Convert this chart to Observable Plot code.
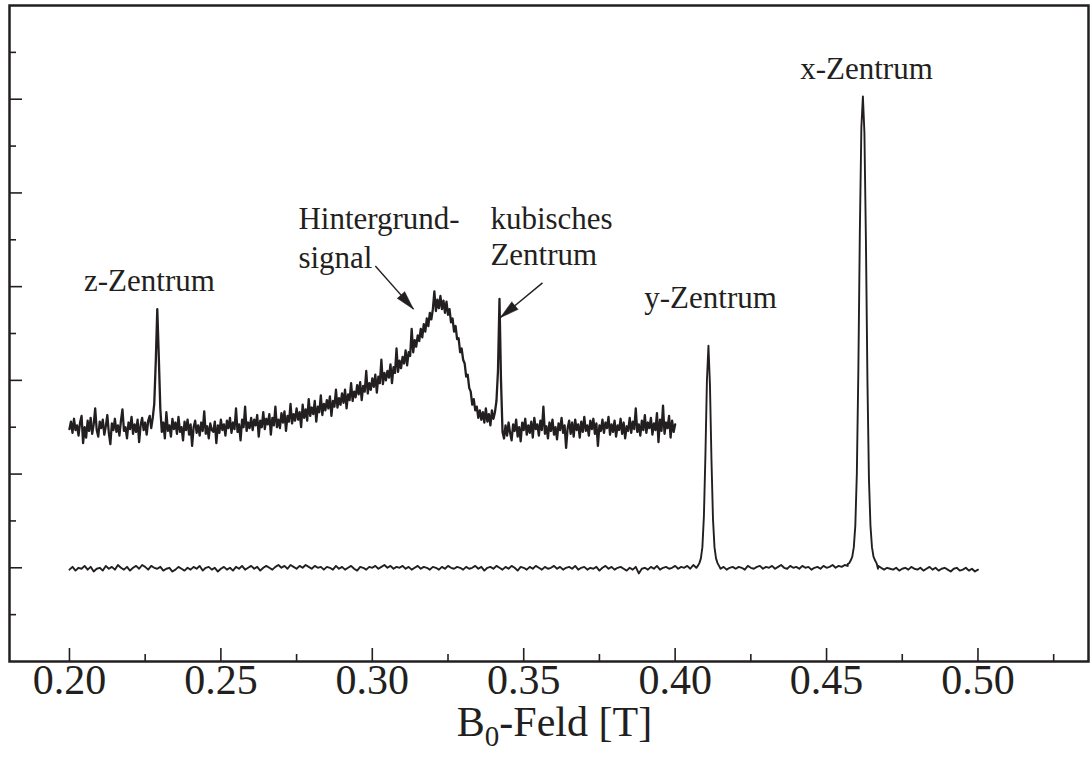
<!DOCTYPE html>
<html><head><meta charset="utf-8">
<script src="https://cdn.jsdelivr.net/npm/d3@7"></script>
<script src="https://cdn.jsdelivr.net/npm/@observablehq/plot@0.6"></script>
<style>
body{margin:0;background:#fff}
svg{display:block}
svg text{font-family:"Liberation Serif","DejaVu Serif",serif !important}
</style>
</head><body><div id="chart"></div>
<script>
// ---- data ----
// upper trace (zoomed spectrum 0.20–0.40 T), sampled every 0.5 mT
const upperStart = 0.200, upperStep = 0.0005;
const upperValues = [
1.48,1.56,1.44,1.59,1.47,1.52,1.41,1.55,1.62,1.33,1.50,1.39,1.57,1.46,1.60,1.43,1.53,1.70,1.47,1.40,
1.56,1.49,1.58,1.42,1.51,1.63,1.44,1.32,1.54,1.47,1.59,1.45,1.52,1.41,1.57,1.69,1.46,1.50,1.38,1.55,
1.48,1.61,1.43,1.53,1.45,1.58,1.34,1.52,1.60,1.47,1.55,1.42,1.57,1.62,1.49,1.60,1.75,2.20,2.76,2.25,
1.70,1.45,1.55,1.38,1.66,1.46,1.52,1.40,1.59,1.48,1.55,1.43,1.61,1.45,1.50,1.36,1.56,1.47,1.58,1.42,
1.53,1.30,1.50,1.57,1.44,1.52,1.41,1.55,1.46,1.67,1.43,1.51,1.38,1.54,1.47,1.45,1.56,1.33,1.52,1.44,
1.58,1.47,1.53,1.41,1.57,1.49,1.60,1.44,1.55,1.48,1.70,1.45,1.53,1.36,1.58,1.50,1.72,1.46,1.55,1.49,
1.60,1.47,1.58,1.52,1.63,1.40,1.57,1.50,1.66,1.48,1.59,1.53,1.64,1.42,1.60,1.52,1.72,1.50,1.58,1.49,
1.65,1.55,1.67,1.46,1.62,1.56,1.75,1.54,1.64,1.57,1.70,1.58,1.66,1.50,1.74,1.60,1.69,1.57,1.80,1.62,
1.71,1.64,1.78,1.56,1.72,1.66,1.84,1.63,1.75,1.68,1.79,1.70,1.83,1.62,1.78,1.72,1.90,1.71,1.81,1.74,
1.86,1.76,1.90,1.70,1.85,1.79,1.97,1.78,1.88,1.82,1.95,1.85,1.98,1.79,1.94,1.88,2.10,1.86,1.97,1.90,
2.02,1.93,2.06,1.87,2.04,1.97,2.22,1.96,2.08,2.00,2.10,2.03,2.17,1.97,2.14,2.08,2.34,2.09,2.21,2.13,
2.25,2.18,2.32,2.16,2.30,2.26,2.55,2.30,2.43,2.36,2.48,2.42,2.55,2.46,2.60,2.52,2.66,2.58,2.72,2.65,
2.76,2.95,2.74,2.86,2.77,2.90,2.76,2.85,2.72,2.84,2.70,2.76,2.62,2.66,2.52,2.58,2.44,2.45,2.30,2.34,
2.22,2.18,2.04,2.06,1.92,1.88,1.74,1.80,1.68,1.72,1.60,1.68,1.58,1.66,1.55,1.70,1.56,1.64,1.52,1.68,
1.59,1.66,1.78,2.10,2.87,2.00,1.45,1.38,1.52,1.41,1.55,1.44,1.36,1.53,1.46,1.58,1.40,1.50,1.35,1.55,
1.47,1.59,1.42,1.52,1.44,1.56,1.39,1.60,1.48,1.53,1.41,1.57,1.47,1.72,1.43,1.51,1.38,1.55,1.46,1.58,
1.42,1.50,1.37,1.54,1.47,1.60,1.44,1.52,1.28,1.49,1.57,1.43,1.55,1.40,1.58,1.47,1.53,1.39,1.56,1.45,
1.61,1.46,1.52,1.41,1.57,1.48,1.59,1.43,1.54,1.30,1.52,1.46,1.58,1.44,1.55,1.49,1.61,1.42,1.53,1.45,
1.57,1.40,1.52,1.47,1.59,1.43,1.55,1.38,1.51,1.46,1.60,1.44,1.56,1.48,1.70,1.45,1.53,1.41,1.57,1.47,
1.63,1.44,1.55,1.49,1.60,1.42,1.54,1.47,1.65,1.34,1.58,1.46,1.73,1.43,1.55,1.49,1.62,1.39,1.57,1.45,
1.53];

// lower trace (full spectrum 0.20–0.50 T), baseline sampled every 1 mT
const lowerStart = 0.200, lowerStep = 0.001;
const lowerValues = [
-0.02,0.01,-0.03,0.00,-0.01,0.02,-0.02,0.01,-0.04,-0.01,
0.00,-0.03,0.02,-0.01,0.01,-0.02,0.03,0.00,-0.02,0.01,
-0.03,0.00,0.02,-0.01,0.03,0.01,-0.02,0.02,0.00,-0.01,
0.01,-0.03,-0.01,0.00,-0.04,-0.02,0.01,-0.01,-0.03,0.00,
-0.02,0.01,-0.01,0.02,-0.03,0.00,0.01,-0.02,0.00,-0.04,
-0.01,0.01,-0.02,0.00,-0.03,0.01,-0.01,0.02,-0.02,0.00,
0.02,-0.01,0.01,-0.03,0.00,0.02,0.00,-0.02,0.01,0.03,
0.00,0.02,-0.01,0.03,0.01,-0.01,0.02,0.00,0.03,0.01,
-0.01,0.02,0.00,0.01,-0.02,0.01,0.00,-0.02,0.02,-0.01,
0.01,-0.02,0.00,0.02,-0.01,-0.03,0.01,0.00,-0.02,0.01,
0.00,0.02,-0.01,0.01,0.03,0.00,0.02,-0.01,0.01,0.00,
0.02,-0.01,0.01,-0.02,0.00,0.02,-0.01,0.01,0.00,-0.02,
0.01,0.00,-0.02,0.01,-0.01,0.02,0.00,-0.01,0.01,0.00,
-0.02,0.01,-0.01,0.00,0.02,-0.01,0.01,-0.03,0.00,0.01,
-0.01,0.02,0.00,-0.02,0.01,-0.01,0.02,0.00,-0.03,0.01,
0.00,-0.02,0.01,-0.01,0.02,0.00,-0.02,0.01,-0.01,0.00,
0.02,-0.01,0.01,-0.02,0.00,0.01,-0.01,0.02,-0.02,0.00,
0.01,-0.02,0.00,-0.01,0.01,-0.03,0.00,0.02,-0.01,0.01,
-0.02,0.00,0.01,-0.01,-0.03,0.00,-0.02,0.01,-0.06,-0.01,
0.00,-0.02,0.01,-0.01,0.02,-0.02,0.00,0.01,-0.01,0.00,
0.02,-0.01,0.01,0.00,0.02,-0.01,0.03,0.00,0.01,0.02,
0.01,0.00,0.00,-0.02,0.00,-0.01,0.01,-0.02,0.00,0.01,
-0.01,0.01,0.00,-0.02,0.02,0.00,-0.01,0.01,0.02,-0.01,
0.01,0.00,0.02,-0.01,0.01,0.03,0.00,-0.01,0.02,0.00,
0.01,-0.01,0.02,0.00,0.01,-0.02,0.00,0.01,-0.01,0.02,
0.00,0.01,0.03,0.00,0.02,0.01,0.03,0.02,0.03,0.04,
0.03,0.03,0.03,0.02,0.01,0.00,0.01,-0.01,0.00,-0.02,
0.00,-0.01,-0.02,0.00,-0.03,-0.01,0.00,-0.02,0.01,-0.01,
-0.02,0.00,-0.03,-0.01,0.01,-0.02,0.00,-0.03,-0.01,0.00,
-0.02,-0.04,-0.01,0.00,-0.03,-0.02,0.00,-0.03,-0.01,-0.04,
-0.02];

// y-Zentrum line, finely sampled
const yPeakField  = [0.4075,0.4080,0.4085,0.4090,0.4095,0.4100,0.4105,0.4110,0.4115,0.4120,0.4125,0.4130,0.4135,0.4140,0.4145];
const yPeakValues = [0.02,0.05,0.10,0.22,0.55,1.20,2.00,2.37,1.95,1.15,0.52,0.22,0.10,0.05,0.02];
// x-Zentrum line, finely sampled
const xPeakField  = [0.4570,0.4575,0.4580,0.4585,0.4590,0.4595,0.4600,0.4605,0.4610,0.4615,0.4620,0.4625,0.4630,0.4635,0.4640,0.4645,0.4650,0.4655,0.4660,0.4665,0.4670];
const xPeakValues = [0.04,0.05,0.08,0.12,0.22,0.45,1.00,2.10,3.60,4.70,5.03,4.65,3.50,2.00,0.95,0.45,0.22,0.12,0.08,0.05,0.02];

// axes
const xMajorTicks = [0.20,0.25,0.30,0.35,0.40,0.45,0.50];
const xMinorTicks = [0.225,0.275,0.325,0.375,0.425,0.475,0.525];
const yMajorTicks = [0,1,2,3,4,5];
const yMinorTicks = [-0.5,0.5,1.5,2.5,3.5,4.5,5.5];
const xDomain = [0.1802, 0.5365];
const yDomain = [-1, 6.0];

// annotations
const labelTexts  = ["z-Zentrum","Hintergrund-","signal","kubisches","Zentrum","y-Zentrum","x-Zentrum"];
const labelX      = [0.2264, 0.2756, 0.2756, 0.3390, 0.3390, 0.4117, 0.4632];
const labelY      = [3.06, 3.72, 3.31, 3.72, 3.34, 2.88, 5.32];
const labelAlign  = ["middle","start","start","start","start","middle","middle"];
const arrowX1 = [0.3010, 0.3562];
const arrowY1 = [3.22, 3.04];
const arrowX2 = [0.3136, 0.3423];
const arrowY2 = [2.76, 2.67];

// ---- build tables ----
const upper = upperValues.map((v, i) => ({x: upperStart + i * upperStep, y: v}));
const peaks = [
  ...yPeakField.map((x, i) => ({x, y: yPeakValues[i]})),
  ...xPeakField.map((x, i) => ({x, y: xPeakValues[i]}))
];
const inPeak = x => (x > yPeakField[0] && x < yPeakField[yPeakField.length-1]) ||
                    (x > xPeakField[0] && x < xPeakField[xPeakField.length-1]);
const lower = lowerValues.map((v, i) => ({x: +(lowerStart + i * lowerStep).toFixed(4), y: v}))
  .filter(d => !inPeak(d.x)).concat(peaks).sort((a, b) => a.x - b.x);
const labels = labelTexts.map((t, i) => ({t, x: labelX[i], y: labelY[i], a: labelAlign[i]}));

const W = 1091, H = 761;
const M = {left: 9, right: 3, top: 5, bottom: 100};
const sx = d3.scaleLinear(xDomain, [M.left, W - M.right]);
const sy = d3.scaleLinear(yDomain, [H - M.bottom, M.top]);
const arrows = arrowX1.map((x1, i) => {
  const dx = sx(arrowX2[i]) - sx(x1), dy = sy(arrowY2[i]) - sy(arrowY1[i]);
  return {x1, y1: arrowY1[i], x2: arrowX2[i], y2: arrowY2[i], a: Math.atan2(dx, -dy) * 180 / Math.PI};
});

const ink = "#231f20";
const font = "Liberation Serif";
const plot = Plot.plot({
  width: W, height: H,
  marginLeft: M.left, marginRight: M.right, marginTop: M.top, marginBottom: M.bottom,
  x: {domain: xDomain},
  y: {domain: yDomain},
  style: {fontFamily: font, color: ink, background: "white"},
  marks: [
    Plot.axisX(xMajorTicks, {tickSize: -13, strokeWidth: 1.6, tickFormat: () => "", label: null}),
    Plot.axisX(xMinorTicks, {tickSize: -7, strokeWidth: 1.6, tickFormat: () => "", label: null}),
    Plot.axisX(xMajorTicks, {tickSize: 0, tickPadding: 3, tickFormat: d3.format(".2f"), fontSize: 42, fontFamily: font, label: null}),
    Plot.axisY(yMajorTicks, {tickSize: -13, strokeWidth: 1.6, tickFormat: () => "", label: null}),
    Plot.axisY(yMinorTicks, {tickSize: -7, strokeWidth: 1.6, tickFormat: () => "", label: null}),
    Plot.frame({stroke: ink, strokeWidth: 2.5}),
    Plot.line(lower, {x: "x", y: "y", stroke: ink, strokeWidth: 1.9}),
    Plot.line(upper, {x: "x", y: "y", stroke: ink, strokeWidth: 2.3}),
    Plot.text(labels.filter(d => d.a === "middle"), {x: "x", y: "y", text: "t", textAnchor: "middle", fontSize: 31, fontFamily: font, fill: ink}),
    Plot.text(labels.filter(d => d.a === "start"), {x: "x", y: "y", text: "t", textAnchor: "start", fontSize: 31, fontFamily: font, fill: ink}),
    Plot.link(arrows, {x1: "x1", y1: "y1", x2: "x2", y2: "y2", stroke: ink, strokeWidth: 1.4}),
    Plot.vector(arrows, {x: "x2", y: "y2", rotate: "a", length: 19, r: 5, shape: "spike", anchor: "end", fill: ink, stroke: ink, strokeWidth: 0.5})
  ]
});

// x-axis title with subscript
const title = d3.select(plot).append("text")
  .attr("x", (sx(xDomain[0]) + sx(xDomain[1])) / 2 + 6)
  .attr("y", H - M.bottom + 75)
  .attr("text-anchor", "middle")
  .attr("font-family", font)
  .attr("font-size", 42)
  .attr("fill", ink);
title.append("tspan").text("B");
title.append("tspan").attr("font-size", 29).attr("dy", 10).text("0");
title.append("tspan").attr("dy", -10).text("-Feld [T]");

document.getElementById("chart").appendChild(plot);
</script>
</body></html>
